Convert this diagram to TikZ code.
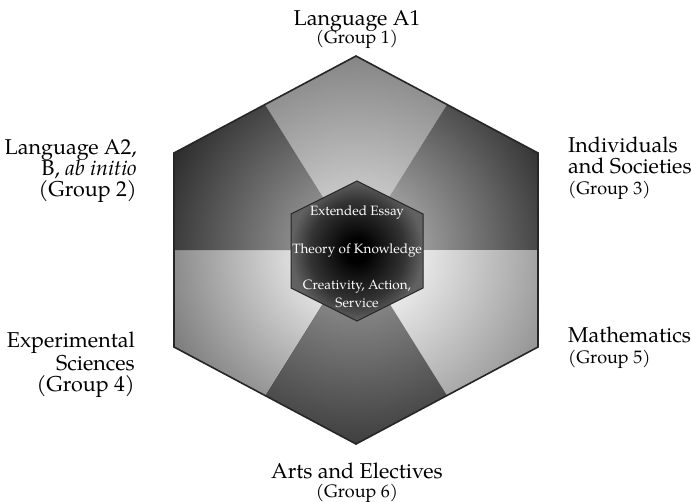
\documentclass[tikz,border=0pt]{standalone}
\usepackage{fontspec}
\setmainfont{TeX Gyre Pagella}
\usetikzlibrary{calc}

% shadings: a soft glow for the six wedges, a dark one for the core
\colorlet{glowin}{white}
\colorlet{glowout}{black}
\pgfdeclareradialshading[glowin,glowout]{glow}{\pgfpoint{0bp}{0bp}}{color(0bp)=(glowin); color(5bp)=(glowin); color(18bp)=(glowout); color(50bp)=(glowout)}
\pgfdeclareradialshading{corefill}{\pgfpoint{0bp}{0bp}}{color(0bp)=(black); color(4bp)=(black); color(18bp)=(black!80); color(25bp)=(black!62); color(50bp)=(black!58)}

\newcommand{\grpfont}{\fontsize{18}{21}\selectfont}

\begin{document}
\begin{tikzpicture}[x=1pt, y=-1pt,
    subject/.style={font={\fontsize{21.5}{21}\selectfont\lineskiplimit=-10pt}, inner sep=0pt},
    core text/.style={font={\fontsize{13.5}{18}\selectfont\lineskiplimit=-10pt}, text=white, inner sep=0pt}
]
\useasboundingbox[fill=white] (0,0) rectangle (691,501);

% outer hexagon
\coordinate (c) at (356,250);
\coordinate (v1) at (356,56);
\coordinate (v2) at (538,153);
\coordinate (v3) at (538,347);
\coordinate (v4) at (356,444);
\coordinate (v5) at (174,347);
\coordinate (v6) at (174,153);

% one wedge per group
\foreach \p/\v/\n/\cin/\cout in {6/1/2/22/52, 1/2/3/38/82, 2/3/4/8/44, 3/4/5/48/80, 4/5/6/12/54, 5/6/1/45/85}{
  \colorlet{glowin}{black!\cin}
  \colorlet{glowout}{black!\cout}
  \begin{scope}
    \clip (c) -- ($(v\p)!.5!(v\v)$) -- (v\v) -- ($(v\v)!.5!(v\n)$) -- cycle;
    \shade[shading=glow] (c) circle (300pt);
  \end{scope}
}
\draw[black!85, line width=1.6pt] (v1) -- (v2) -- (v3) -- (v4) -- (v5) -- (v6) -- cycle;

% core
\coordinate (w1) at (357,181);
\coordinate (w2) at (423,214);
\coordinate (w3) at (423,288);
\coordinate (w4) at (357,321);
\coordinate (w5) at (291,288);
\coordinate (w6) at (291,214);
\shadedraw[shading=corefill, draw=black!85, line width=1pt] (w1) -- (w2) -- (w3) -- (w4) -- (w5) -- (w6) -- cycle;

\node[core text, anchor=base] (ee) at (357,215) {Extended Essay};
\node[core text, anchor=base] (tok) at (357,253) {Theory of Knowledge};
\node[core text, anchor=north, align=center] (cas) at (357,279.5) {Creativity, Action,\\Service};

% groups
\node[subject, anchor=north, align=center] (g1) at (357,10) {Language A1\\[-2.5pt]{\grpfont (Group 1)}};
\node[subject, anchor=north east, align=right] (g2) at (137,139) {Language A2,\\B, \emph{ab initio}\\(Group 2)};
\node[subject, anchor=north west, align=left] (g3) at (568,136.7) {Individuals\\and Societies\\{\grpfont (Group 3)}};
\node[subject, anchor=north east, align=right] (g4) at (135,331.4) {Experimental\\[2pt]Sciences\\(Group 4)};
\node[subject, anchor=north west, align=left] (g5) at (568,326.4) {Mathematics\\{\grpfont (Group 5)}};
\node[subject, anchor=north, align=center] (g6) at (357,462.4) {Arts and Electives\\[-2pt]{\grpfont (Group 6)}};
\end{tikzpicture}
\end{document}
